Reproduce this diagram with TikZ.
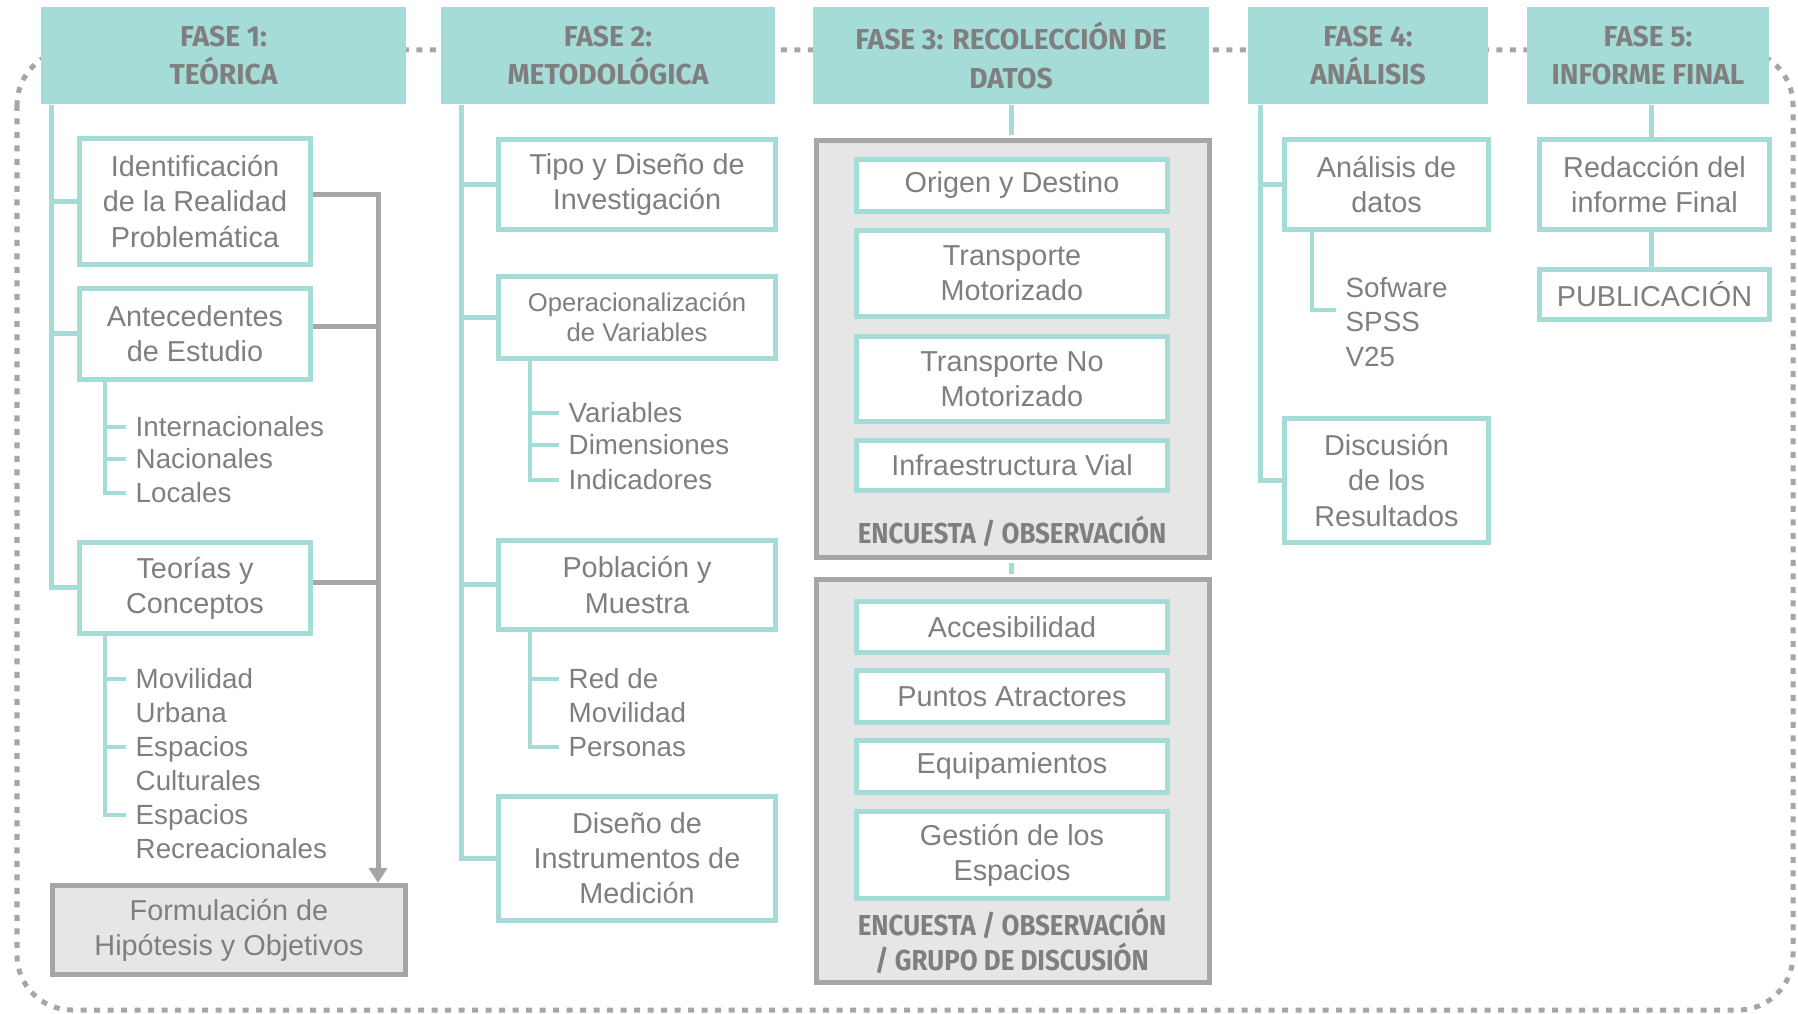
\documentclass[tikz,border=0pt]{standalone}
\usepackage{fontspec}
\setmainfont{Liberation Sans}
\newfontfamily\hdfont[FakeStretch=0.98]{Fira Sans}
\newfontfamily\lbfont[FakeStretch=0.9]{Fira Sans}
\usetikzlibrary{arrows.meta}
\definecolor{teal1}{RGB}{166,220,215}
\definecolor{txtgray}{RGB}{127,127,127}
\definecolor{linegray}{RGB}{166,166,166}
\definecolor{boxgray}{RGB}{230,230,230}

\begin{document}
\begin{tikzpicture}[
    fase/.style={rectangle,fill=teal1,minimum height=0.97cm,inner sep=0pt,align=center,text=txtgray,font=\hdfont\bfseries\fontsize{8.2}{10.9}\selectfont},
    item/.style={rectangle,draw=teal1,line width=0.05cm,fill=white,inner sep=0pt,align=center,text=txtgray,font=\fontsize{8.2}{10}\selectfont},
    grupo/.style={rectangle,draw=linegray,line width=0.055cm,fill=boxgray,inner sep=0pt},
    etiqueta/.style={align=center,inner sep=0pt,text=txtgray,font=\lbfont\bfseries\fontsize{8.2}{10}\selectfont},
    lista/.style={anchor=west,inner sep=0pt,text height=0.2cm,text depth=0pt,text=txtgray,font=\fontsize{7.9}{10}\selectfont},
    rama/.style={draw=teal1,line width=0.05cm},
    subrama/.style={draw=teal1,line width=0.035cm,shorten >=0.09cm},
    flujo/.style={draw=linegray,line width=0.05cm},
    borde/.style={draw=linegray,line width=0.05cm,dash pattern=on 0.06cm off 0.075cm,rounded corners=0.55cm}
]
    \useasboundingbox (0,0) rectangle (17.98,-10.14);
    \draw[borde] (0.17,-0.50) rectangle (17.93,-10.10);

    % fase 1
    \node[fase,minimum width=3.65cm] (f1) at (2.235,-0.555) {FASE 1:\\TEÓRICA};
    \node[item,minimum width=2.31cm,minimum height=1.26cm] (ident) at (1.95,-2.015) {Identificación\\de la Realidad\\Problemática};
    \node[item,minimum width=2.31cm,minimum height=0.91cm] (antec) at (1.95,-3.34) {Antecedentes\\de Estudio};
    \node[lista] (inter) at (1.35,-4.27) {Internacionales};
    \node[lista] (nac) at (1.35,-4.59) {Nacionales};
    \node[lista] (loc) at (1.35,-4.93) {Locales};
    \node[item,minimum width=2.31cm,minimum height=0.91cm] (teor) at (1.95,-5.88) {Teorías y\\Conceptos};
    \node[lista] (mov) at (1.35,-6.79) {Movilidad};
    \node[lista] (urb) at (1.35,-7.13) {Urbana};
    \node[lista] (espc) at (1.35,-7.47) {Espacios};
    \node[lista] (cult) at (1.35,-7.81) {Culturales};
    \node[lista] (espr) at (1.35,-8.15) {Espacios};
    \node[lista] (recr) at (1.35,-8.49) {Recreacionales};
    \node[item,draw=linegray,fill=boxgray,minimum width=3.53cm,minimum height=0.89cm] (formul) at (2.29,-9.30) {Formulación de\\Hipótesis y Objetivos};

    \coordinate (t1) at ([xshift=0.11cm]f1.south west);
    \draw[rama] (t1) |- (teor.west);
    \draw[rama] (ident.west) -- (ident.west -| t1);
    \draw[rama] (antec.west) -- (antec.west -| t1);
    \coordinate (s1) at (1.05,0);
    \draw[subrama] (antec.south -| s1) |- (loc.west);
    \draw[subrama] (inter.west -| s1) -- (inter.west);
    \draw[subrama] (nac.west -| s1) -- (nac.west);
    \draw[subrama] (teor.south -| s1) |- (espr.west);
    \draw[subrama] (mov.west -| s1) -- (mov.west);
    \draw[subrama] (espc.west -| s1) -- (espc.west);
    \coordinate (g1) at (3.78,0);
    \draw[flujo,-{Triangle[width=0.18cm,length=0.15cm]}] ([yshift=0.07cm]ident.east) -| (formul.north -| g1);
    \draw[flujo] ([yshift=0.07cm]antec.east) -- ([yshift=0.07cm]antec.east -| g1);
    \draw[flujo] ([yshift=0.05cm]teor.east) -- ([yshift=0.05cm]teor.east -| g1);

    % fase 2
    \node[fase,minimum width=3.34cm] (f2) at (6.08,-0.555) {FASE 2:\\METODOLÓGICA};
    \node[item,minimum width=2.77cm,minimum height=0.90cm] (tipo) at (6.37,-1.845) {Tipo y Diseño de\\Investigación};
    \node[item,minimum width=2.77cm,minimum height=0.82cm,font=\fontsize{7.3}{8.6}\selectfont] (oper) at (6.37,-3.175) {Operacionalización\\de Variables};
    \node[lista] (var) at (5.68,-4.13) {Variables};
    \node[lista] (dim) at (5.68,-4.45) {Dimensiones};
    \node[lista] (ind) at (5.68,-4.80) {Indicadores};
    \node[item,minimum width=2.77cm,minimum height=0.89cm] (pobl) at (6.37,-5.85) {Población y\\Muestra};
    \node[lista] (red) at (5.68,-6.79) {Red de};
    \node[lista] (movp) at (5.68,-7.13) {Movilidad};
    \node[lista] (pers) at (5.68,-7.47) {Personas};
    \node[item,minimum width=2.77cm,minimum height=1.24cm] (disen) at (6.37,-8.585) {Diseño de\\Instrumentos de\\Medición};

    \coordinate (t2) at ([xshift=0.21cm]f2.south west);
    \draw[rama] (t2) |- (disen.west);
    \draw[rama] (tipo.west) -- (tipo.west -| t2);
    \draw[rama] (oper.west) -- (oper.west -| t2);
    \draw[rama] (pobl.west) -- (pobl.west -| t2);
    \coordinate (s2) at (5.30,0);
    \draw[subrama] (oper.south -| s2) |- (ind.west);
    \draw[subrama] (var.west -| s2) -- (var.west);
    \draw[subrama] (dim.west -| s2) -- (dim.west);
    \draw[subrama] (pobl.south -| s2) |- (pers.west);
    \draw[subrama] (red.west -| s2) -- (red.west);

    % fase 3
    \node[fase,minimum width=3.96cm] (f3) at (10.11,-0.555) {FASE 3: RECOLECCIÓN DE\\DATOS};
    \node[grupo,minimum width=3.93cm,minimum height=4.17cm] (grupoA) at (10.13,-3.49) {};
    \node[grupo,minimum width=3.93cm,minimum height=4.03cm] (grupoB) at (10.13,-7.81) {};
    \node[item,minimum width=3.11cm,minimum height=0.52cm] (orig) at (10.12,-1.855) {Origen y Destino};
    \node[item,minimum width=3.11cm,minimum height=0.86cm] (tmot) at (10.12,-2.735) {Transporte\\Motorizado};
    \node[item,minimum width=3.11cm,minimum height=0.85cm] (tnmot) at (10.12,-3.79) {Transporte No\\Motorizado};
    \node[item,minimum width=3.11cm,minimum height=0.50cm] (infra) at (10.12,-4.655) {Infraestructura Vial};
    \node[etiqueta] (encA) at (10.12,-5.31) {ENCUESTA / OBSERVACIÓN};
    \node[item,minimum width=3.11cm,minimum height=0.51cm] (acces) at (10.12,-6.27) {Accesibilidad};
    \node[item,minimum width=3.11cm,minimum height=0.52cm] (puntos) at (10.12,-6.965) {Puntos Atractores};
    \node[item,minimum width=3.11cm,minimum height=0.52cm] (equip) at (10.12,-7.665) {Equipamientos};
    \node[item,minimum width=3.11cm,minimum height=0.87cm] (gest) at (10.12,-8.55) {Gestión de los\\Espacios};
    \node[etiqueta] (encB) at (10.12,-9.405) {ENCUESTA / OBSERVACIÓN\\/ GRUPO DE DISCUSIÓN};

    \draw[rama,shorten >=0.03cm] (f3.south) -- (f3.south |- grupoA.north);
    \draw[rama,shorten <=0.03cm,shorten >=0.03cm] (grupoA.south -| f3.south) -- (f3.south |- grupoB.north);

    % fase 4
    \node[fase,minimum width=2.40cm] (f4) at (13.68,-0.555) {FASE 4:\\ANÁLISIS};
    \node[item,minimum width=2.04cm,minimum height=0.90cm] (anal) at (13.865,-1.845) {Análisis de\\datos};
    \node[lista] (sofw) at (13.45,-2.88) {Sofware};
    \node[lista] (spss) at (13.45,-3.22) {SPSS};
    \node[lista] (v25) at (13.45,-3.57) {V25};
    \node[item,minimum width=2.04cm,minimum height=1.24cm] (discu) at (13.865,-4.805) {Discusión\\de los\\Resultados};

    \coordinate (t4) at ([xshift=0.13cm]f4.south west);
    \draw[rama] (t4) |- (discu.west);
    \draw[rama] (anal.west) -- (anal.west -| t4);
    \coordinate (s4) at (13.12,0);
    \draw[subrama] (anal.south -| s4) |- ([yshift=0.12cm]spss.west);

    % fase 5
    \node[fase,minimum width=2.42cm] (f5) at (16.48,-0.555) {FASE 5:\\INFORME FINAL};
    \node[item,minimum width=2.30cm,minimum height=0.90cm] (redac) at (16.545,-1.845) {Redacción del\\informe Final};
    \node[item,minimum width=2.30cm,minimum height=0.50cm] (publ) at (16.545,-2.945) {PUBLICACIÓN};

    \coordinate (t5) at (16.51,0);
    \draw[rama] (f5.south -| t5) -- (redac.north -| t5);
    \draw[rama] (redac.south -| t5) -- (publ.north -| t5);
\end{tikzpicture}
\end{document}
